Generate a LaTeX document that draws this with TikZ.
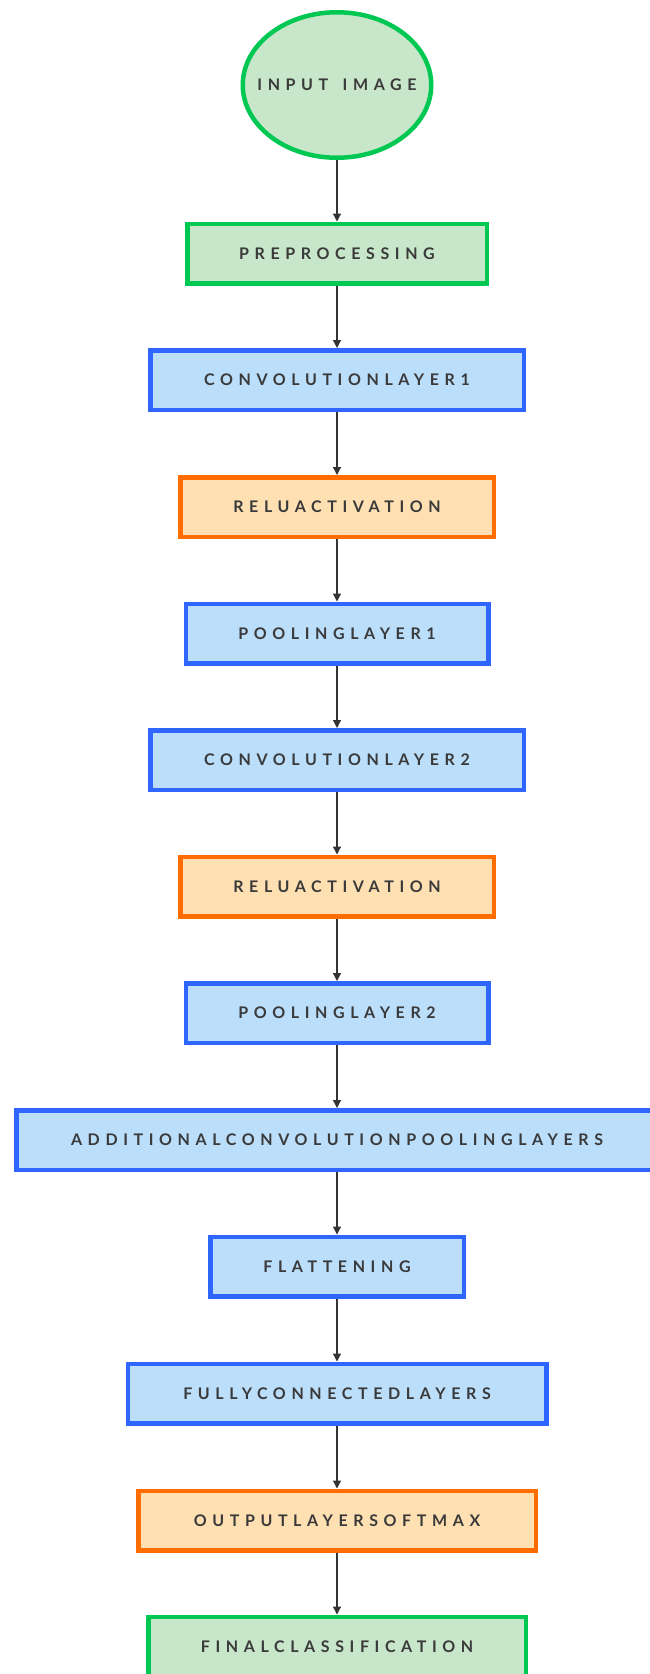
\documentclass[tikz,border=0pt]{standalone}
\usepackage{fontspec}
\setmainfont{Lato}[LetterSpace=35]
\usetikzlibrary{shapes.geometric,arrows.meta}
\definecolor{gborder}{HTML}{00C853}
\definecolor{gfill}{HTML}{C8E6C9}
\definecolor{bborder}{HTML}{2F66FF}
\definecolor{bfill}{HTML}{BBDEFB}
\definecolor{oborder}{HTML}{FF6D00}
\definecolor{ofill}{HTML}{FFE0B2}
\definecolor{txt}{HTML}{3A3A3A}
\definecolor{arr}{HTML}{333333}
\tikzset{
  base/.style={line width=4.5pt, text=txt, font=\fontsize{16}{18}\selectfont\bfseries, minimum height=59.5pt, inner sep=0pt},
  greenbox/.style={base, rectangle, draw=gborder, fill=gfill},
  bluebox/.style={base, rectangle, draw=bborder, fill=bfill},
  orangebox/.style={base, rectangle, draw=oborder, fill=ofill},
  startell/.style={base, ellipse, draw=gborder, fill=gfill, minimum width=188.5pt, minimum height=145.5pt},
  conn/.style={draw=arr, line width=1.3pt, -{Triangle[length=8pt,width=8pt]}}
}
\begin{document}
\begin{tikzpicture}[x=1pt,y=-1pt]
\useasboundingbox (0,0) rectangle (649,1674);
\fill[white] (0,0) rectangle (649,1674);
\node[startell] (in) at (337,85) {\makebox[0pt]{INPUT\hspace{0.9em}IMAGE}};
\node[greenbox, minimum width=299.5pt] (pre) at (337,253.5) {PREPROCESSING};
\node[bluebox, minimum width=373.5pt] (c1) at (337,380) {CONVOLUTIONLAYER1};
\node[orangebox, minimum width=313.5pt] (r1) at (337,507) {RELUACTIVATION};
\node[bluebox, minimum width=302.5pt] (p1) at (337,633.5) {POOLINGLAYER1};
\node[bluebox, minimum width=373.5pt] (c2) at (337,760) {CONVOLUTIONLAYER2};
\node[orangebox, minimum width=313.5pt] (r2) at (337,886.5) {RELUACTIVATION};
\node[bluebox, minimum width=302.5pt] (p2) at (337,1013) {POOLINGLAYER2};
\node[bluebox, minimum width=641.5pt] (ad) at (337,1140) {ADDITIONALCONVOLUTIONPOOLINGLAYERS};
\node[bluebox, minimum width=253.5pt] (fl) at (337,1266.5) {FLATTENING};
\node[bluebox, minimum width=418.5pt] (fc) at (337,1393.5) {FULLYCONNECTEDLAYERS};
\node[orangebox, minimum width=397.5pt] (out) at (337,1520.5) {OUTPUTLAYERSOFTMAX};
\node[greenbox, minimum width=377.5pt] (fin) at (337,1646.5) {FINALCLASSIFICATION};
\foreach \a/\b in {in/pre,pre/c1,c1/r1,r1/p1,p1/c2,c2/r2,r2/p2,p2/ad,ad/fl,fl/fc,fc/out,out/fin}
  \draw[conn] (\a.south) -- (\b.north);
\end{tikzpicture}
\end{document}
